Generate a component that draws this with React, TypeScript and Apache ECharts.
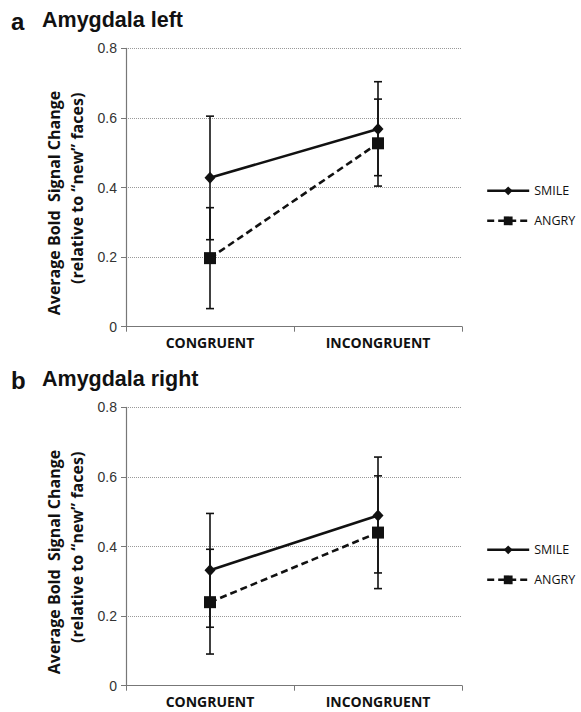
import React, { useEffect, useRef } from "react";
import * as echarts from "echarts";

const categories = ["CONGRUENT", "INCONGRUENT"];
const yTicks = [0, 0.2, 0.4, 0.6, 0.8];

// Panel a: Amygdala left
const leftSmile = [0.428, 0.568];
const leftSmileErr = [[0.25, 0.605], [0.434, 0.704]];
const leftAngry = [0.197, 0.527];
const leftAngryErr = [[0.052, 0.342], [0.404, 0.654]];

// Panel b: Amygdala right
const rightSmile = [0.332, 0.489];
const rightSmileErr = [[0.168, 0.495], [0.324, 0.657]];
const rightAngry = [0.24, 0.44];
const rightAngryErr = [[0.091, 0.392], [0.279, 0.603]];

const panelTitles = ["Amygdala left", "Amygdala right"];
const panelLetters = ["a", "b"];
const yAxisLines = ["Average Bold  Signal Change", "(relative to \u201cnew\u201d faces)"];

const FONT = "'Open Sans', 'Noto Sans', sans-serif";
const SANS = "'Liberation Sans', Arial, sans-serif";

export default function App() {
  const ref = useRef<HTMLDivElement>(null);
  useEffect(() => {
    document.body.style.margin = "0";
    const chart = echarts.init(ref.current!, null, { renderer: "svg" });
    const gridTops = [48.3, 407.3];
    const gridH = 278.4;

    const errRender = (params: any, api: any) => {
      const x = api.value(0);
      const lo = api.coord([x, api.value(1)]);
      const hi = api.coord([x, api.value(2)]);
      const cw = 4;
      const st = { stroke: "#111", lineWidth: 1.6 };
      return {
        type: "group",
        children: [
          { type: "line", shape: { x1: lo[0], y1: lo[1], x2: hi[0], y2: hi[1] }, style: st },
          { type: "line", shape: { x1: lo[0] - cw, y1: lo[1], x2: lo[0] + cw, y2: lo[1] }, style: st },
          { type: "line", shape: { x1: hi[0] - cw, y1: hi[1], x2: hi[0] + cw, y2: hi[1] }, style: st },
        ],
      };
    };

    const panels = [
      { smile: leftSmile, smileErr: leftSmileErr, angry: leftAngry, angryErr: leftAngryErr },
      { smile: rightSmile, smileErr: rightSmileErr, angry: rightAngry, angryErr: rightAngryErr },
    ];

    const grid: any[] = [];
    const xAxis: any[] = [];
    const yAxis: any[] = [];
    const series: any[] = [];
    const legend: any[] = [];
    const graphic: any[] = [];

    panels.forEach((p, i) => {
      const top = gridTops[i];
      grid.push({ left: 126, top, width: 336, height: gridH });
      xAxis.push({
        type: "category",
        gridIndex: i,
        data: categories,
        boundaryGap: true,
        axisLine: { lineStyle: { color: "#777", width: 1.2 } },
        axisTick: { show: true, length: 5, lineStyle: { color: "#777" } },
        axisLabel: { color: "#111", fontWeight: "bold", fontSize: 14, fontFamily: FONT, margin: 9 },
      });
      yAxis.push({
        type: "value",
        gridIndex: i,
        min: 0,
        max: 0.8,
        interval: 0.2,
        axisLine: { show: true, lineStyle: { color: "#777", width: 1.2 } },
        axisTick: { show: true, length: 5, lineStyle: { color: "#777" } },
        axisLabel: {
          color: "#333",
          fontSize: 14,
          fontFamily: SANS,
          margin: 9,
          formatter: (v: number) => {
            const t = yTicks.find((x) => Math.abs(x - v) < 1e-9);
            return t === 0 ? "0" : t !== undefined ? t.toFixed(1) : "";
          },
        },
        splitLine: { show: true, lineStyle: { color: "#999", type: "dotted", width: 1 } },
      });
      const sName = i === 0 ? "SMILE" : "SMILE ";
      const aName = i === 0 ? "ANGRY" : "ANGRY ";
      series.push({
        type: "custom",
        xAxisIndex: i,
        yAxisIndex: i,
        renderItem: errRender,
        data: p.smileErr.map((e, k) => [k, e[0], e[1]]),
        z: 1,
        silent: true,
      });
      series.push({
        type: "custom",
        xAxisIndex: i,
        yAxisIndex: i,
        renderItem: errRender,
        data: p.angryErr.map((e, k) => [k, e[0], e[1]]),
        z: 1,
        silent: true,
      });
      series.push({
        name: sName,
        type: "line",
        xAxisIndex: i,
        yAxisIndex: i,
        data: p.smile,
        symbol: "diamond",
        symbolSize: [11, 12],
        itemStyle: { color: "#111" },
        lineStyle: { color: "#111", width: 2.6 },
        z: 3,
      });
      series.push({
        name: aName,
        type: "line",
        xAxisIndex: i,
        yAxisIndex: i,
        data: p.angry,
        symbol: "rect",
        symbolSize: 12,
        itemStyle: { color: "#111" },
        lineStyle: { color: "#111", width: 2.6, type: [7, 4] },
        z: 3,
      });
      legend.push({
        data: [sName, aName],
        orient: "vertical",
        left: 486,
        top: top + 142.5 - 9,
        padding: 0,
        itemWidth: 42,
        itemHeight: 11,
        itemGap: 12,
        lineStyle: { width: 2.4 },
        textStyle: { color: "#111", fontSize: 12.5, fontFamily: FONT, lineHeight: 18 },
        formatter: (n: string) => n.trim(),
      });
      graphic.push({
        type: "text",
        x: 11,
        y: top - 48.3 + 21,
        style: { text: panelLetters[i], font: `bold 24px ${SANS}`, fill: "#111", verticalAlign: "middle" },
      });
      graphic.push({
        type: "text",
        x: 42,
        y: top - 48.3 + 20,
        style: { text: panelTitles[i], font: `bold 21.5px ${SANS}`, fill: "#111", verticalAlign: "middle" },
      });
      graphic.push({
        type: "text",
        x: 54,
        y: top + 154.7,
        rotation: Math.PI / 2,
        style: {
          text: yAxisLines[0],
          font: `bold 16px ${FONT}`,
          fill: "#111",
          align: "center",
          verticalAlign: "middle",
        },
      });
      graphic.push({
        type: "text",
        x: 77,
        y: top + 140,
        rotation: Math.PI / 2,
        style: {
          text: yAxisLines[1],
          font: `bold 16px ${FONT}`,
          fill: "#111",
          align: "center",
          verticalAlign: "middle",
        },
      });
    });

    chart.setOption({
      animation: false,
      backgroundColor: "#fff",
      grid,
      xAxis,
      yAxis,
      series,
      legend,
      graphic,
    });
    return () => chart.dispose();
  }, []);
  return <div ref={ref} style={{ width: 581, height: 712 }} />;
}
